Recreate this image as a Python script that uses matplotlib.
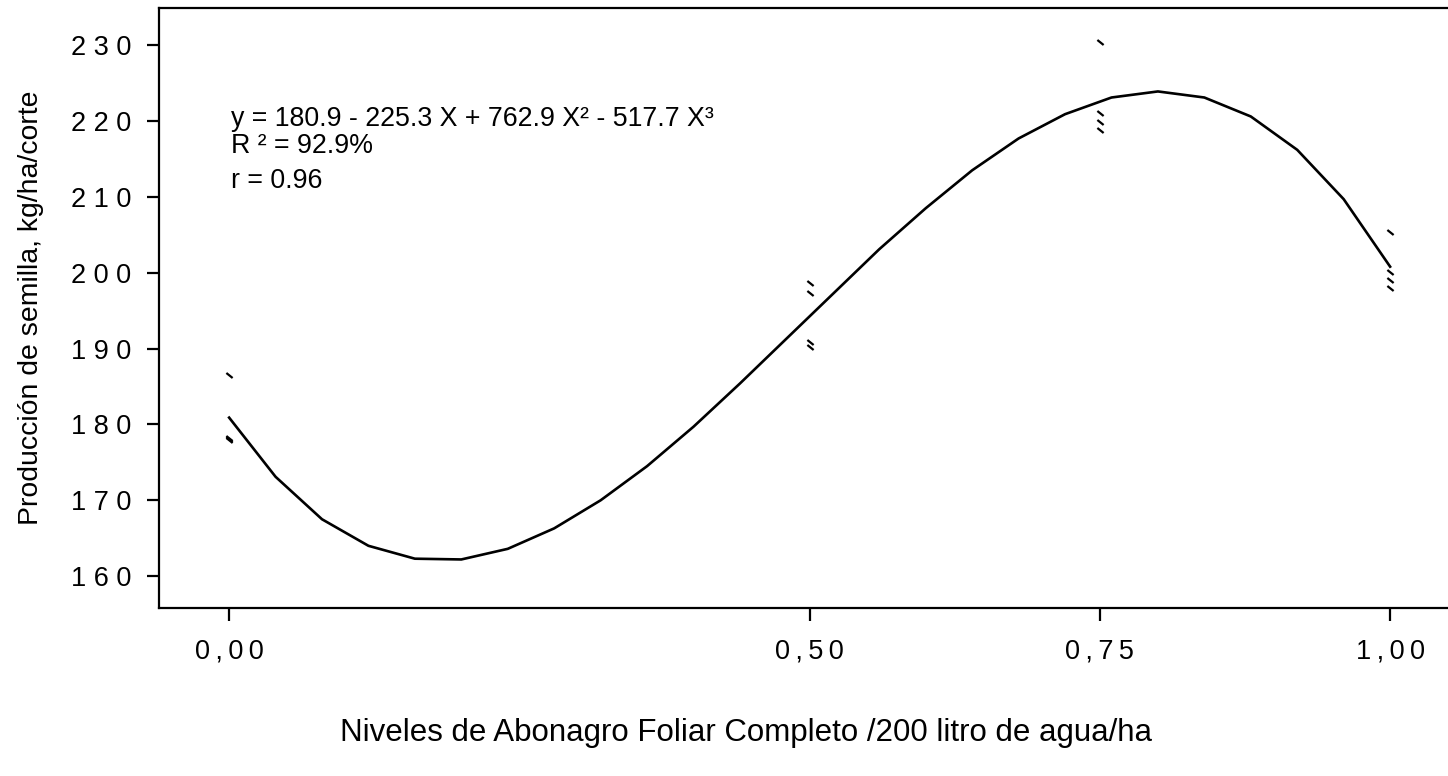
import matplotlib
matplotlib.use("Agg")
import matplotlib.pyplot as plt
import matplotlib.transforms as mtransforms
from matplotlib.path import Path

# ---- data ----
obs_x = [0.00, 0.00, 0.00, 0.00,
         0.50, 0.50, 0.50, 0.50,
         0.75, 0.75, 0.75, 0.75,
         1.00, 1.00, 1.00, 1.00]
obs_y = [186.5, 178.1, 178.0, 178.2,
         198.6, 197.3, 190.9, 190.2,
         230.4, 221.0, 219.9, 218.8,
         205.4, 200.1, 199.0, 198.0]

fit_x = [0.00, 0.04, 0.08, 0.12, 0.16, 0.20, 0.24, 0.28, 0.32, 0.36, 0.40, 0.44, 0.48,
         0.52, 0.56, 0.60, 0.64, 0.68, 0.72, 0.76, 0.80, 0.84, 0.88, 0.92, 0.96, 1.00]
fit_y = [180.9, 173.1, 167.5, 164.0, 162.3, 162.2, 163.6, 166.3, 170.0, 174.5, 179.7, 185.4, 191.3,
         197.2, 203.1, 208.5, 213.5, 217.7, 220.9, 223.1, 223.9, 223.1, 220.6, 216.2, 209.7, 200.8]

y_ticks = [160, 170, 180, 190, 200, 210, 220, 230]
y_ticklabels = ["1 6 0", "1 7 0", "1 8 0", "1 9 0", "2 0 0", "2 1 0", "2 2 0", "2 3 0"]
x_ticks = [0.00, 0.50, 0.75, 1.00]
x_ticklabels = ["0\u2009,\u20090\u20090", "0\u2009,\u20095\u20090",
                "0\u2009,\u20097\u20095", "1\u2009,\u20090\u20090"]

eq_lines = ["y = 180.9 - 225.3 X + 762.9 X\u00b2 - 517.7 X\u00b3",
            "R \u00b2 = 92.9%",
            "r = 0.96"]
x_label = "Niveles de Abonagro Foliar Completo /200 litro de agua/ha"
y_label = "Producción de semilla, kg/ha/corte"

plt.rcParams['font.family'] = ['Liberation Sans', 'DejaVu Sans']

W, H = 1448, 776
fig = plt.figure(figsize=(W / 100, H / 100), dpi=100)
ax = fig.add_axes([159 / W, 1 - 608 / H, (1447 - 159) / W, 600 / H])

ax.plot(fit_x, fit_y, color='black', lw=1.9, solid_joinstyle='miter')

tick_marker = Path([(-1, 0.8), (1, -0.8)], [Path.MOVETO, Path.LINETO])
ax.plot(obs_x, obs_y, linestyle='none', marker=tick_marker, markersize=4.5,
        markeredgewidth=1.6, color='black')

ax.set_xlim(-0.0604, 1.049)
ax.set_ylim(155.8, 234.9)

ax.set_xticks(x_ticks)
ax.set_xticklabels(x_ticklabels)
ax.set_yticks(y_ticks)
ax.set_yticklabels(y_ticklabels)

ax.tick_params(axis='both', direction='out', length=9, width=1.6, colors='black',
               labelsize=19.5)
ax.tick_params(axis='y', pad=11)
ax.tick_params(axis='x', pad=13)

for s in ['left', 'bottom', 'top']:
    ax.spines[s].set_linewidth(1.6)
ax.spines['right'].set_visible(False)

fig.text(31 / W, 1 - 308 / H, y_label, rotation=90, ha='center', va='center',
         fontsize=20.4)
fig.text(746 / W, 1 - 733 / H, x_label, ha='center', va='center', fontsize=22.5)

tr = mtransforms.blended_transform_factory(ax.transData, fig.transFigure)
baselines = [126, 153, 188]
for line, yp in zip(eq_lines, baselines):
    ax.text(0.002, 1 - yp / H, line, fontsize=19.3, ha='left', va='baseline',
            transform=tr)

fig.savefig("out.png", dpi=100)
